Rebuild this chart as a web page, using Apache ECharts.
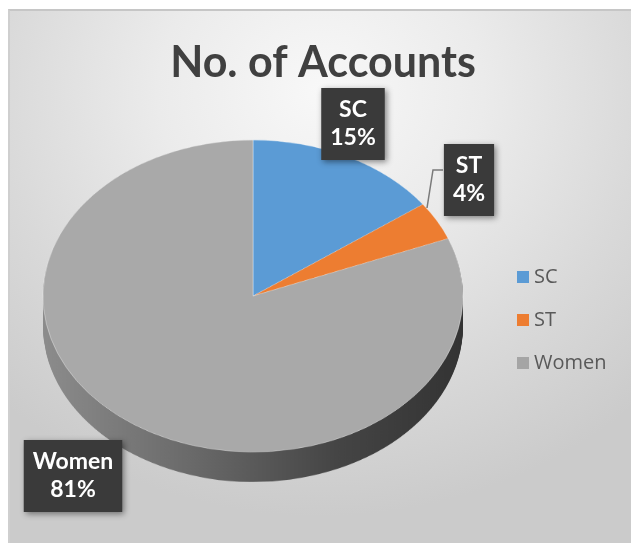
<!DOCTYPE html>
<html>
<head>
<meta charset="utf-8">
<script src="https://cdn.jsdelivr.net/npm/echarts@6/dist/echarts.min.js"></script>
<style>
  html, body { margin: 0; padding: 0; background: #fff; }
  #wrap { position: relative; width: 631px; height: 543px; overflow: hidden; background: #fff; }
  #bg { position: absolute; left: 8px; top: 9px; width: 623px; height: 534px; box-sizing: border-box;
        border-top: 2px solid #c6c6c6; border-left: 2px solid #cfcfcf;
        background: radial-gradient(ellipse 75% 80% at 50% 15%, #f8f8f8 0%, #ebebeb 35%, #d9d9d9 70%, #cbcbcb 100%); }
  #pie { position: absolute; left: 0; top: 0; width: 631px; transform-origin: 0 0; }
  #top { position: absolute; left: 0; top: 0; width: 631px; height: 543px; }
</style>
</head>
<body>
<div id="wrap">
  <div id="bg"></div>
  <div id="pie"></div>
  <div id="top"></div>
</div>
<script>
// ---- data ----
const categories = ['SC', 'ST', 'Women'];
const shares = [15, 4, 81];
const chartTitle = 'No. of Accounts';

// ---- style ----
const colors = ['#5b9bd5', '#ed7d31', '#a9a9a9'];
const legendColors = ['#5b9bd5', '#ed7d31', '#a5a5a5'];
const CX = 253, CY = 296, RX = 210, RY = 156, DEPTH = 30;
const K = RY / RX;
const H = 543 / K;

const pieDiv = document.getElementById('pie');
pieDiv.style.height = H + 'px';
pieDiv.style.transform = 'scaleY(' + K + ')';

const pieData = categories.map((c, i) => ({ name: c, value: shares[i], itemStyle: { color: colors[i] } }));

const wallGrad = new echarts.graphic.LinearGradient(0, 0, 1, 0, [
  { offset: 0, color: '#8c8c8c' },
  { offset: 0.35, color: '#6a6a6a' },
  { offset: 0.7, color: '#454545' },
  { offset: 1, color: '#333333' }
]);

const series = [{
  type: 'pie',
  z: 5,
  silent: true,
  animation: false,
  startAngle: 90,
  clockwise: true,
  center: [CX, CY / K],
  radius: RX,
  label: { show: false },
  labelLine: { show: false },
  itemStyle: { borderColor: 'rgba(255,255,255,0.35)', borderWidth: 1 },
  data: pieData
}];
for (let d = DEPTH; d >= 1; d -= 1) {
  series.push({
    type: 'pie',
    z: 1,
    silent: true,
    animation: false,
    startAngle: 90,
    center: [CX, (CY + d) / K],
    radius: RX,
    label: { show: false },
    labelLine: { show: false },
    itemStyle: { color: wallGrad },
    data: categories.map((c, i) => ({ name: c, value: shares[i] }))
  });
}

const pieChart = echarts.init(pieDiv, null, { renderer: 'canvas' });
pieChart.setOption({ backgroundColor: 'transparent', animation: false, series: series });

// ---- overlay: title, legend, labels ----
const labelPos = {
  0: { x: 353, y: 124 },
  1: { x: 469, y: 180, line: [[427, 208], [433, 170], [443, 170]] },
  2: { x: 73, y: 476 }
};

const topChart = echarts.init(document.getElementById('top'), null, { renderer: 'canvas' });
topChart.setOption({
  backgroundColor: 'transparent',
  animation: false,
  title: {
    text: chartTitle,
    left: 318,
    top: 37,
    textAlign: 'center',
    textStyle: { fontFamily: 'Lato', fontWeight: 'bold', fontSize: 43, color: '#404040' }
  },
  legend: {
    orient: 'vertical',
    left: 512,
    top: 262,
    itemWidth: 12,
    itemHeight: 12,
    itemGap: 23,
    icon: 'rect',
    selectedMode: false,
    textStyle: { fontFamily: 'Open Sans', fontSize: 20, color: '#595959' },
    data: categories.map((c, i) => ({ name: c, itemStyle: { color: legendColors[i], opacity: 1 } }))
  },
  series: [{
    type: 'pie',
    silent: true,
    animation: false,
    startAngle: 90,
    center: [CX, CY],
    radius: 100,
    itemStyle: { color: 'rgba(0,0,0,0)' },
    label: {
      show: true,
      position: 'outside',
      formatter: '{b}\n{d}%',
      fontFamily: 'Lato',
      fontWeight: 'bold',
      fontSize: 23,
      lineHeight: 28,
      color: '#ffffff',
      backgroundColor: '#3a3a3a',
      padding: [8, 9],
      align: 'center',
      shadowBlur: 6,
      shadowColor: 'rgba(0,0,0,0.45)',
      shadowOffsetX: 2,
      shadowOffsetY: 2
    },
    labelLine: { show: false, lineStyle: { color: '#7a7a7a', width: 1.5 } },
    labelLayout: function (p) {
      const lp = labelPos[p.dataIndex];
      const r = { x: lp.x, y: lp.y, align: 'center', verticalAlign: 'middle' };
      if (lp.line) r.labelLinePoints = lp.line;
      return r;
    },
    data: categories.map((c, i) => ({
      name: c, value: shares[i],
      labelLine: { show: i === 1, lineStyle: { color: '#7a7a7a', width: 1.5 } }
    }))
  }]
});
</script>
</body>
</html>
